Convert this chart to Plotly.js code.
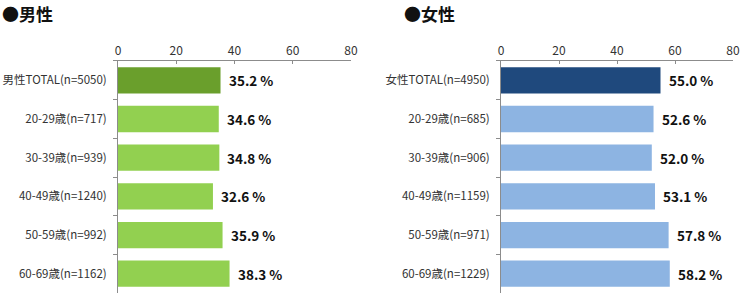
<!DOCTYPE html>
<html>
<head>
<meta charset="utf-8">
<script src="https://cdn.plot.ly/plotly-3.0.1.min.js"></script>
<style>
  html, body { margin: 0; padding: 0; background: #fff; }
  #chart { width: 740px; height: 296px; }
</style>
</head>
<body>
<div id="chart"></div>
<script>
// Male panel
const maleCategories = ['男性TOTAL(n=5050)', '20-29歳(n=717)', '30-39歳(n=939)', '40-49歳(n=1240)', '50-59歳(n=992)', '60-69歳(n=1162)'];
const maleValues = [35.2, 34.6, 34.8, 32.6, 35.9, 38.3];

// Female panel
const femaleCategories = ['女性TOTAL(n=4950)', '20-29歳(n=685)', '30-39歳(n=906)', '40-49歳(n=1159)', '50-59歳(n=971)', '60-69歳(n=1229)'];
const femaleValues = [55.0, 52.6, 52.0, 53.1, 57.8, 58.2];

const xTicks = [0, 20, 40, 60, 80];
const panelTitles = ['●男性', '●女性'];

const maleColors = maleValues.map((v, i) => i === 0 ? '#6a9f2c' : '#92d050');
const femaleColors = femaleValues.map((v, i) => i === 0 ? '#1f497d' : '#8db4e2');

const FONT = '"Noto Sans CJK JP", "Noto Sans", sans-serif';

const traces = [
  {
    type: 'bar', orientation: 'h',
    x: maleValues, y: maleCategories,
    xaxis: 'x', yaxis: 'y',
    marker: { color: maleColors, line: { width: 0 } },
    hoverinfo: 'skip'
  },
  {
    type: 'bar', orientation: 'h',
    x: femaleValues, y: femaleCategories,
    xaxis: 'x2', yaxis: 'y2',
    marker: { color: femaleColors, line: { width: 0 } },
    hoverinfo: 'skip'
  }
];

function valueLabels(values, cats, xref, yref) {
  return values.map((v, i) => ({
    x: v, y: cats[i], xref: xref, yref: yref,
    text: v.toFixed(1) + ' %',
    showarrow: false, xanchor: 'left', yanchor: 'middle', xshift: 6,
    font: { family: FONT, size: 13.5, color: '#111', weight: 'bold' }
  }));
}

const xAxisBase = {
  range: [0, 80], tickvals: xTicks, side: 'top',
  showgrid: false, zeroline: false,
  showline: true, linecolor: '#8c8c8c', linewidth: 1,
  ticks: 'inside', ticklen: 3, tickcolor: '#8c8c8c',
  tickfont: { family: FONT, size: 12, color: '#333' },
  fixedrange: true
};
const yAxisBase = {
  autorange: 'reversed', showgrid: false, zeroline: false,
  showline: true, linecolor: '#8c8c8c', linewidth: 1,
  ticks: 'outside', ticklen: 4, tickcolor: '#8c8c8c', tickson: 'boundaries',
  tickfont: { family: FONT, size: 11.5, color: '#333' },
  ticklabelstandoff: 8,
  domain: [0.01, 0.794],
  fixedrange: true
};

const layout = {
  width: 740, height: 296,
  margin: { l: 0, r: 0, t: 0, b: 0 },
  paper_bgcolor: '#fff', plot_bgcolor: '#fff',
  showlegend: false,
  bargap: 0.32,
  xaxis: Object.assign({}, xAxisBase, { domain: [118 / 740, 351 / 740], anchor: 'y' }),
  xaxis2: Object.assign({}, xAxisBase, { domain: [501 / 740, 733 / 740], anchor: 'y2' }),
  yaxis: Object.assign({}, yAxisBase, { anchor: 'x' }),
  yaxis2: Object.assign({}, yAxisBase, { anchor: 'x2' }),
  annotations: [
    {
      text: panelTitles[0], xref: 'paper', yref: 'paper', x: 0, y: 1,
      xanchor: 'left', yanchor: 'top', showarrow: false, yshift: 1,
      font: { family: FONT, size: 17, color: '#111', weight: 'bold' }
    },
    {
      text: panelTitles[1], xref: 'paper', yref: 'paper', x: 402 / 740, y: 1,
      xanchor: 'left', yanchor: 'top', showarrow: false, yshift: 1,
      font: { family: FONT, size: 17, color: '#111', weight: 'bold' }
    }
  ].concat(valueLabels(maleValues, maleCategories, 'x', 'y'))
   .concat(valueLabels(femaleValues, femaleCategories, 'x2', 'y2'))
};

Plotly.newPlot('chart', traces, layout, { displayModeBar: false, staticPlot: true });
</script>
</body>
</html>
